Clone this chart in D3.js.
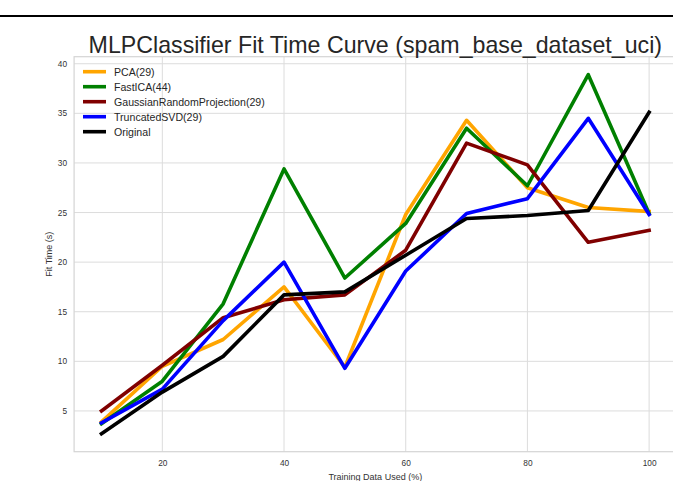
<!DOCTYPE html>
<html>
<head>
<meta charset="utf-8">
<script src="https://cdn.jsdelivr.net/npm/d3@7"></script>
<style>
  html, body { margin: 0; padding: 0; background: #fff; }
  svg { display: block; font-family: "Liberation Sans", Arial, sans-serif; }
</style>
</head>
<body>
<svg id="chart" width="673" height="481"></svg>
<script>
// ---- data ----
const trainingPct = [10, 20, 30, 40, 50, 60, 70, 80, 90, 100];
const seriesNames = ["PCA(29)", "FastICA(44)", "GaussianRandomProjection(29)", "TruncatedSVD(29)", "Original"];
const pcaValues      = [3.9, 9.5, 12.2, 17.5, 9.4, 24.8, 34.3, 27.5, 25.5, 25.1];
const fastIcaValues  = [3.7, 8.0, 15.8, 29.4, 18.4, 23.9, 33.5, 27.7, 38.9, 24.9];
const grpValues      = [5.0, 9.6, 14.4, 16.2, 16.7, 21.2, 32.0, 29.8, 22.0, 23.2];
const svdValues      = [3.8, 7.2, 14.1, 20.0, 9.3, 19.1, 24.9, 26.4, 34.5, 24.8];
const originalValues = [2.7, 6.9, 10.5, 16.7, 17.0, 20.7, 24.4, 24.7, 25.2, 35.1];
const xTickValues = [20, 40, 60, 80, 100];
const yTickValues = [5, 10, 15, 20, 25, 30, 35, 40];
const titleText = "MLPClassifier Fit Time Curve (spam_base_dataset_uci)";
const xLabelText = "Training Data Used (%)";
const yLabelText = "Fit Time (s)";

const seriesValues = [pcaValues, fastIcaValues, grpValues, svdValues, originalValues];
const colors = ["#ffa500", "#008000", "#800000", "#0000ff", "#000000"];

// ---- layout ----
const svg = d3.select("#chart");
const plot = { left: 74.1, right: 676.5, top: 56.7, bottom: 451.7 };

function padded(ext) { const m = (ext[1] - ext[0]) * 0.05; return [ext[0] - m, ext[1] + m]; }
const x = d3.scaleLinear().domain(padded(d3.extent(trainingPct))).range([plot.left, plot.right]);
const allVals = seriesValues.flat();
const y = d3.scaleLinear().domain(padded(d3.extent(allVals))).range([plot.bottom, plot.top]);

// top black rule
svg.append("line").attr("x1", 0).attr("x2", 673).attr("y1", 16).attr("y2", 16)
  .attr("stroke", "#000").attr("stroke-width", 2);

// grid
const grid = svg.append("g");
grid.selectAll(".vx").data(xTickValues).join("line")
  .attr("x1", d => x(d)).attr("x2", d => x(d)).attr("y1", plot.top).attr("y2", plot.bottom)
  .attr("stroke", "#dcdcdc").attr("stroke-width", 1);
grid.selectAll(".hy").data(yTickValues).join("line")
  .attr("x1", plot.left).attr("x2", plot.right).attr("y1", d => y(d)).attr("y2", d => y(d))
  .attr("stroke", "#dcdcdc").attr("stroke-width", 1);
// frame
svg.append("rect").attr("x", plot.left).attr("y", plot.top)
  .attr("width", plot.right - plot.left).attr("height", plot.bottom - plot.top)
  .attr("fill", "none").attr("stroke", "#d4d4d4").attr("stroke-width", 1.2);

// axes (tick labels only)
const xAxis = d3.axisBottom(x).tickValues(xTickValues).tickSize(0).tickPadding(8).tickFormat(d3.format("d"));
const gx = svg.append("g").attr("transform", `translate(0,${plot.bottom})`).call(xAxis);
gx.select(".domain").remove();
gx.selectAll("text").attr("font-size", 8.3).attr("fill", "#333").attr("font-family", "Liberation Sans, Arial, sans-serif");

const yAxis = d3.axisLeft(y).tickValues(yTickValues).tickSize(0).tickPadding(7).tickFormat(d3.format("d"));
const gy = svg.append("g").attr("transform", `translate(${plot.left},0)`).call(yAxis);
gy.select(".domain").remove();
gy.selectAll("text").attr("font-size", 8.3).attr("fill", "#333").attr("font-family", "Liberation Sans, Arial, sans-serif");

// lines
const line = d3.line().x((d, i) => x(trainingPct[i])).y(d => y(d));
const gl = svg.append("g");
seriesValues.forEach((vals, k) => {
  gl.append("path").datum(vals).attr("d", line)
    .attr("fill", "none").attr("stroke", colors[k]).attr("stroke-width", 3.6)
    .attr("stroke-linejoin", "round").attr("stroke-linecap", "square");
});

// title
svg.append("text").attr("x", (plot.left + plot.right) / 2).attr("y", 53)
  .attr("text-anchor", "middle").attr("font-size", 23.2).attr("fill", "#262626").text(titleText);

// axis labels
svg.append("text").attr("x", (plot.left + plot.right) / 2).attr("y", 479.5)
  .attr("text-anchor", "middle").attr("font-size", 9).attr("fill", "#333").text(xLabelText);
svg.append("text").attr("transform", `translate(52,${(plot.top + plot.bottom) / 2}) rotate(-90)`)
  .attr("text-anchor", "middle").attr("font-size", 9).attr("fill", "#333").text(yLabelText);

// legend
const lg = svg.append("g");
seriesNames.forEach((name, k) => {
  const yy = 71.7 + 15 * k;
  lg.append("line").attr("x1", 83).attr("x2", 106).attr("y1", yy).attr("y2", yy)
    .attr("stroke", colors[k]).attr("stroke-width", 3.6);
  lg.append("text").attr("x", 114).attr("y", yy + 3.8).attr("font-size", 10.6)
    .attr("fill", "#262626").text(name);
});
</script>
</body>
</html>
